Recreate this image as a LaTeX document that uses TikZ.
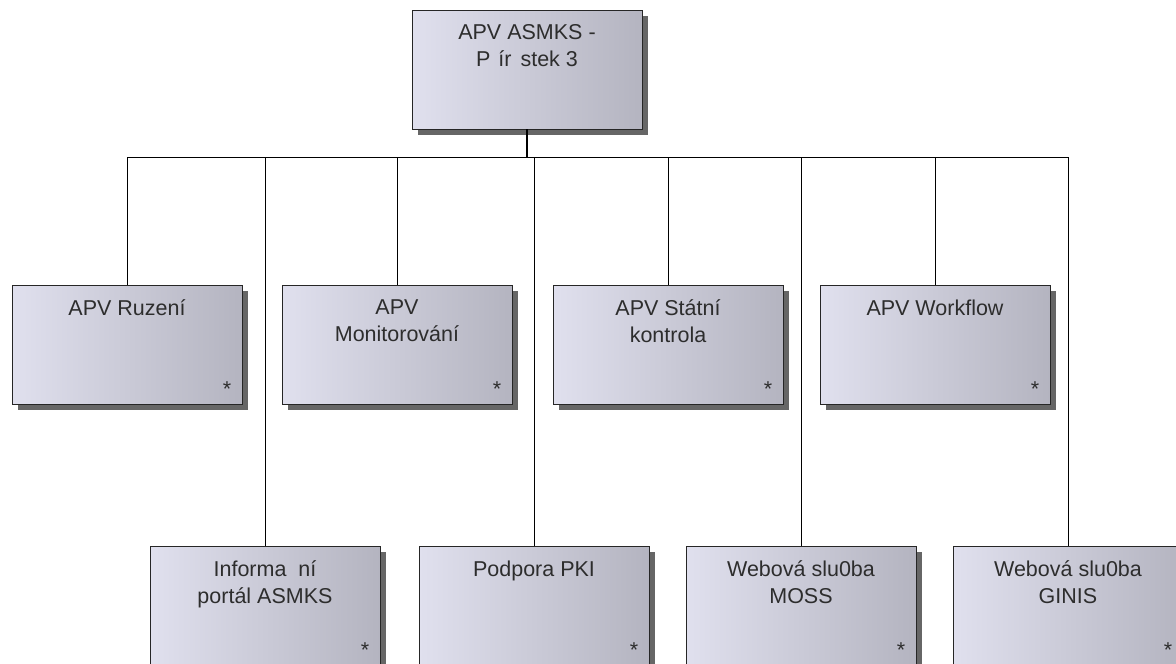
\documentclass[tikz,border=0pt]{standalone}
\usepackage{fontspec}
\setmainfont{Liberation Sans}
\usetikzlibrary{shadows}

\definecolor{boxleft}{RGB}{224,224,238}
\definecolor{boxright}{RGB}{180,180,192}
\definecolor{boxtext}{RGB}{45,45,45}

\begin{document}
\begin{tikzpicture}[x=1pt, y=-1pt,
  unit/.style={draw=black!85, line width=0.9pt, left color=boxleft, right color=boxright,
    minimum width=230pt, minimum height=119pt, inner sep=0pt,
    drop shadow={shadow xshift=6pt, shadow yshift=-6pt, fill=black!60, opacity=1}},
  title/.style={anchor=north, yshift=-15pt, inner sep=0pt, align=center, text=boxtext,
    font=\fontsize{21.5}{26.5}\selectfont},
  starmk/.style={anchor=center, xshift=100pt, yshift=-45pt, inner sep=0pt, text=boxtext,
    font=\fontsize{21.5}{26.5}\selectfont},
  link/.style={line width=0.8pt}]

\clip (0,0) rectangle (1176,664);

% Root
\node[unit, label={[title]north:{APV ASMKS -\\P\hspace{8pt}ír\hspace{9pt}stek 3}}] (top) at (527,69.5) {};

% First row
\node[unit, label={[title]north:{APV Ruzení}}, label={[starmk]center:*}] (ruz) at (127,344.5) {};
\node[unit, label={[title]north:{APV\\Monitorování}}, label={[starmk]center:*}] (mon) at (397,344.5) {};
\node[unit, label={[title]north:{APV Státní\\kontrola}}, label={[starmk]center:*}] (kon) at (668,344.5) {};
\node[unit, label={[title]north:{APV Workflow}}, label={[starmk]center:*}] (wf) at (935,344.5) {};

% Second row
\node[unit, label={[title]north:{Informa\ \ ní\\portál ASMKS}}, label={[starmk]center:*}] (por) at (265,605.5) {};
\node[unit, label={[title]north:{Podpora PKI}}, label={[starmk]center:*}] (pki) at (534,605.5) {};
\node[unit, label={[title]north:{Webová slu0ba\\MOSS}}, label={[starmk]center:*}] (moss) at (801,605.5) {};
\node[unit, label={[title]north:{Webová slu0ba\\GINIS}}, label={[starmk]center:*}] (gin) at (1068,605.5) {};

% Bus
\coordinate (bus) at (527,157);
\draw[line width=2pt] (top.south) -- (bus);
\draw[link] (ruz.north |- bus) -- (gin.north |- bus);

% Drops
\draw[link] (ruz.north) -- (ruz.north |- bus);
\draw[link] (mon.north) -- (mon.north |- bus);
\draw[link] (kon.north) -- (kon.north |- bus);
\draw[link] (wf.north) -- (wf.north |- bus);
\draw[link] (por.north) -- (por.north |- bus);
\draw[link] (pki.north) -- (pki.north |- bus);
\draw[link] (moss.north) -- (moss.north |- bus);
\draw[link] (gin.north) -- (gin.north |- bus);

\end{tikzpicture}
\end{document}
